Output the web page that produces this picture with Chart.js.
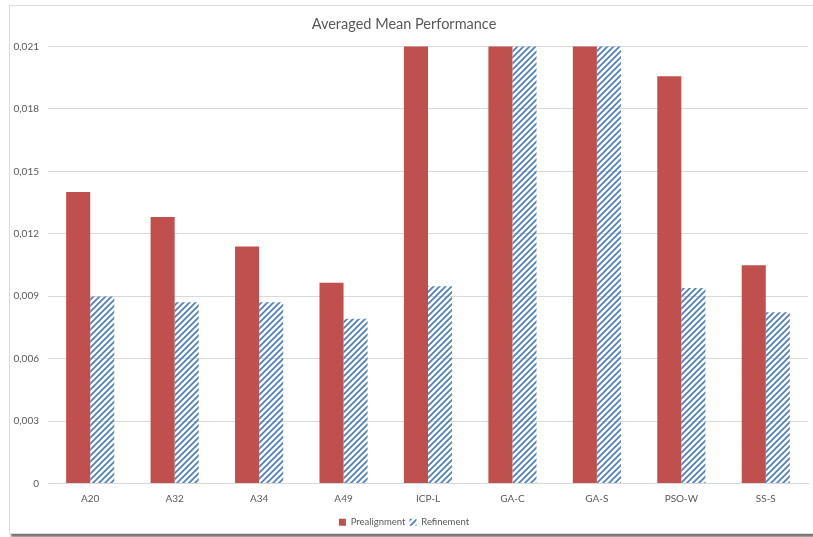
<!DOCTYPE html>
<html>
<head>
<meta charset="utf-8">
<script src="https://cdn.jsdelivr.net/npm/chart.js@4/dist/chart.umd.min.js"></script>
<style>
  html, body { margin: 0; padding: 0; background: #ffffff; overflow: hidden; }
  body { width: 813px; height: 537px; position: relative; }
  #card {
    position: absolute; left: 9px; top: 5px; width: 820px; height: 527px;
    background: #ffffff; border: 1px solid #dcdcdc;
    box-shadow: 2px 3px 2px rgba(0,0,0,0.55);
  }
  #wrap { position: absolute; left: 0; top: 0; width: 830px; height: 537px; }
</style>
</head>
<body>
<div id="card"></div>
<div id="wrap"><canvas id="chart" width="830" height="537"></canvas></div>
<script>
// Averaged mean performance per method
const categories = ['A20', 'A32', 'A34', 'A49', 'ICP-L', 'GA-C', 'GA-S', 'PSO-W', 'SS-S'];
// Values above the axis maximum (0,021) are cut off at the top of the plot
const prealignment = [0.0140, 0.0128, 0.01139, 0.00964, 0.026, 0.028, 0.027, 0.01957, 0.01048];
const refinement   = [0.00899, 0.00871, 0.00871, 0.00791, 0.00948, 0.024, 0.023, 0.00939, 0.00823];
const yTicks = [0, 0.003, 0.006, 0.009, 0.012, 0.015, 0.018, 0.021];

const RED = '#C0504D';
const BLUE = '#4A7EC0';

function hatch(color) {
  const s = 6;
  const c = document.createElement('canvas');
  c.width = s; c.height = s;
  const g = c.getContext('2d');
  g.strokeStyle = color;
  g.lineWidth = 1.7;
  g.beginPath();
  g.moveTo(0, s); g.lineTo(s, 0);
  g.moveTo(-1, 1); g.lineTo(1, -1);
  g.moveTo(s - 1, s + 1); g.lineTo(s + 1, s - 1);
  g.stroke();
  return document.getElementById('chart').getContext('2d').createPattern(c, 'repeat');
}

const fmt = v => (v === 0 ? '0' : v.toFixed(3).replace('.', ','));
const FONT = 'Lato, "Open Sans", sans-serif';

new Chart(document.getElementById('chart'), {
  type: 'bar',
  data: {
    labels: categories,
    datasets: [
      {
        label: 'Prealignment',
        data: prealignment,
        backgroundColor: RED,
        borderWidth: 0,
        clip: 0
      },
      {
        label: 'Refinement',
        data: refinement,
        backgroundColor: hatch(BLUE),
        borderWidth: 0,
        clip: 0
      }
    ]
  },
  options: {
    responsive: false,
    animation: false,
    devicePixelRatio: 1,
    layout: { padding: { left: 0, right: 22, top: 9, bottom: 0 } },
    datasets: { bar: { categoryPercentage: 0.57, barPercentage: 1.0 } },
    plugins: {
      title: {
        display: true,
        text: 'Averaged Mean Performance',
        color: '#595959',
        font: { family: FONT, size: 14.5, weight: 'normal' },
        padding: { top: 7, bottom: 13 }
      },
      legend: {
        position: 'bottom',
        labels: {
          color: '#595959',
          font: { family: FONT, size: 9.5 },
          boxWidth: 7,
          boxHeight: 7,
          padding: 4
        }
      },
      tooltip: { enabled: false }
    },
    scales: {
      x: {
        grid: { display: false, drawTicks: false },
        border: { display: true, color: '#d9d9d9', width: 1 },
        ticks: { color: '#595959', font: { family: FONT, size: 10 }, padding: 9 }
      },
      y: {
        min: 0,
        max: 0.021,
        afterBuildTicks: axis => { axis.ticks = yTicks.map(v => ({ value: v })); },
        afterFit: axis => { axis.width = 48; },
        grid: { color: '#d9d9d9', drawTicks: false },
        border: { display: false },
        ticks: {
          color: '#595959',
          font: { family: FONT, size: 10 },
          padding: 9,
          callback: v => fmt(v)
        }
      }
    }
  }
});
</script>
</body>
</html>
